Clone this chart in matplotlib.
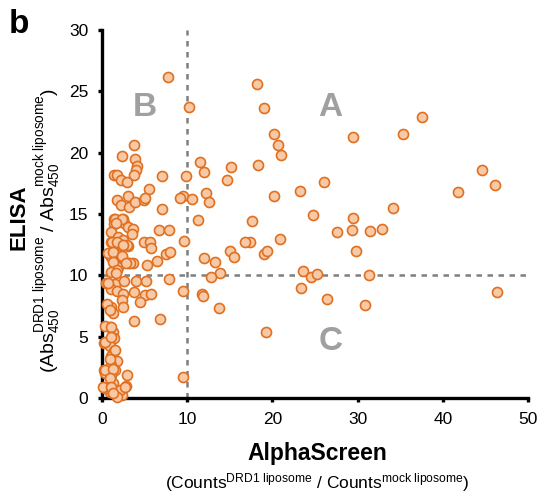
import matplotlib
matplotlib.use("Agg")
import matplotlib.pyplot as plt
import numpy as np

plt.rcParams["font.family"] = ["Liberation Sans", "DejaVu Sans"]
plt.rcParams["mathtext.fontset"] = "custom"
plt.rcParams["mathtext.rm"] = "Liberation Sans"
plt.rcParams["mathtext.it"] = "Liberation Sans:italic"
plt.rcParams["mathtext.bf"] = "Liberation Sans:bold"

# AlphaScreen ratio (x) vs ELISA ratio (y)
ALPHA = [
    7.7, 10.2, 18.2, 19.0, 20.2, 20.6, 21.0, 18.3, 29.5, 35.3, 37.6, 44.6, 46.1, 41.8,
    23.2, 26.0, 20.2, 17.6, 24.8, 20.9, 17.4, 19.0, 19.3, 29.4, 29.3, 27.6, 31.5, 32.9,
    34.2, 29.8, 23.6, 24.5, 25.2, 31.3, 23.4, 26.4, 30.8, 46.4,
    11.5, 12.0, 15.1, 14.7, 9.9, 9.5, 9.2, 10.5, 12.2, 12.5, 11.3, 9.6, 16.8, 15.0,
    15.5, 12.0, 13.2, 13.8, 12.8, 9.5, 11.7, 11.9, 13.7, 19.2, 9.5,
    3.7, 2.3, 3.9, 4.1, 4.0, 3.8, 1.4, 1.7, 2.2, 2.9, 7.0, 5.5, 3.0, 1.7, 2.2, 3.2,
    3.9, 4.9, 5.0, 7.0, 1.4, 2.5, 2.6, 3.0, 3.6, 3.5, 1.4, 1.1, 1.9, 2.4, 3.0, 1.1,
    2.2, 6.7, 7.8, 4.9, 5.6, 5.8, 0.8, 1.1, 1.6, 2.3, 7.5, 8.0, 6.5, 5.3, 3.0, 3.6,
    1.4, 1.9, 1.5, 2.3, 1.6, 1.2, 1.7, 2.9, 2.5, 0.7, 1.3, 2.3, 3.3, 2.8, 1.3, 1.7,
    1.1, 1.6, 0.5, 1.5, 2.6, 4.0, 5.2, 7.9, 1.1, 1.7, 2.5, 2.3, 3.7, 5.0, 5.8, 4.5,
    1.0, 1.3, 2.5, 3.7, 6.8, 0.9, 0.4, 1.3, 0.2, 0.9, 1.4, 0.9, 1.4, 1.1, 1.7, 1.1,
    0.2, 0.4, 1.5, 1.1, 2.9, 2.8, 2.3, 0.9, 0.9, 0.4, 1.3, 2.1, 1.7, 0.7, 0.55, 0.9,
    1.05, 0.35, 1.1, 1.5, 0.9, 0.35, 1.3, 0.9, 0.15, 1.05, 1.3, 2.7,
]
ELISA = [
    26.2, 23.7, 25.6, 23.6, 21.5, 20.6, 19.8, 19.0, 21.3, 21.5, 22.9, 18.6, 17.4, 16.8,
    16.9, 17.6, 16.5, 14.4, 14.9, 13.0, 12.7, 11.7, 12.0, 14.7, 13.7, 13.5, 13.6, 13.8,
    15.5, 12.0, 10.35, 9.9, 10.1, 10.0, 9.0, 8.1, 7.6, 8.6,
    19.2, 18.4, 18.8, 17.8, 18.1, 16.5, 16.3, 16.2, 16.7, 16.0, 14.5, 12.8, 12.7, 12.0,
    11.5, 11.4, 11.1, 10.2, 9.9, 8.7, 8.5, 8.3, 7.3, 5.4, 1.7,
    20.6, 19.7, 19.5, 18.9, 18.6, 18.2, 18.2, 18.2, 17.8, 17.6, 18.1, 17.0, 16.5, 16.1, 15.7, 15.6,
    16.0, 16.1, 16.3, 15.4, 14.6, 14.6, 14.3, 13.9, 13.8, 13.4, 14.2, 13.5, 13.1, 12.9, 12.4, 12.7,
    12.5, 13.7, 13.7, 12.7, 12.7, 12.2, 11.7, 11.5, 11.6, 11.5, 11.7, 11.9, 11.2, 10.8, 11.0, 11.0,
    11.1, 10.7, 14.6, 14.6, 14.3, 12.7, 12.7, 12.5, 12.5, 11.8, 11.9, 11.6, 11.0, 11.0, 11.1, 10.4,
    10.3, 10.2, 9.4, 9.3, 9.5, 9.5, 9.5, 9.7, 8.9, 8.7, 8.5, 8.0, 8.6, 8.4, 8.5, 7.8,
    7.4, 6.9, 7.4, 6.3, 6.4, 5.8, 5.9, 5.4, 4.5, 4.6, 4.9, 4.2, 3.8, 3.4, 3.0, 2.7,
    2.3, 2.0, 2.3, 1.9, 1.9, 1.0, 0.25, 0.9, 0.5, 0.8, 1.2, 0.65, 0.1, 9.35, 7.7, 7.2,
    5.8, 4.6, 5.0, 3.9, 3.2, 2.3, 2.4, 1.6, 0.9, 0.9, 0.4, 0.9,
]
X_CUT = 10
Y_CUT = 10
QUADRANTS = [("A", 26.8, 23.7), ("B", 5.0, 23.7), ("C", 26.8, 4.6)]

fig = plt.figure(figsize=(5.4, 4.96), dpi=100)
ax = fig.add_axes([0.189, 0.1976, 0.789, 0.742])

ax.plot([X_CUT, X_CUT], [0, 30], ls=(0, (2.2, 2.2)), color="#7f7f7f", lw=1.8, zorder=1)
ax.plot([0, 50], [Y_CUT, Y_CUT], ls=(0, (2.2, 2.2)), color="#7f7f7f", lw=1.8, zorder=1)

ax.scatter(ALPHA, ELISA, s=52, facecolor="#f8c9a6", edgecolor="#e0701f", linewidth=1.2,
           zorder=3, clip_on=False)

for letter, lx, ly in QUADRANTS:
    ax.text(lx, ly, letter, fontsize=24, fontweight="bold", color="#a0a0a0",
            ha="center", va="center", zorder=2)

ax.set_xlim(0, 50)
ax.set_ylim(0, 30)
ax.set_xticks(np.arange(0, 51, 10))
ax.set_yticks(np.arange(0, 31, 5))
for side in ["top", "right"]:
    ax.spines[side].set_visible(False)
for side in ["left", "bottom"]:
    ax.spines[side].set_linewidth(2.4)
ax.tick_params(direction="out", length=3, width=2.4, labelsize=12.5, pad=7)

fig.text(0.587, 0.073, "AlphaScreen", fontsize=16.5, fontweight="bold", ha="center", va="baseline")
fig.text(0.588, 0.016, r"(Counts$^{\mathrm{DRD1\ liposome}}$ / Counts$^{\mathrm{mock\ liposome}}$)",
         fontsize=12.5, ha="center", va="baseline")
fig.text(0.055, 0.562, "ELISA", fontsize=16, fontweight="bold", ha="right", va="center",
         rotation=90)
fig.text(0.09, 0.535,
         r"(Abs$_{450}^{\mathrm{DRD1\ liposome}}$ / Abs$_{450}^{\mathrm{mock\ liposome}}$)",
         fontsize=14, ha="center", va="center", rotation=90)
fig.text(0.017, 0.934, "b", fontsize=24, fontweight="bold", ha="left", va="baseline")

fig.savefig("out.png", dpi=100)
